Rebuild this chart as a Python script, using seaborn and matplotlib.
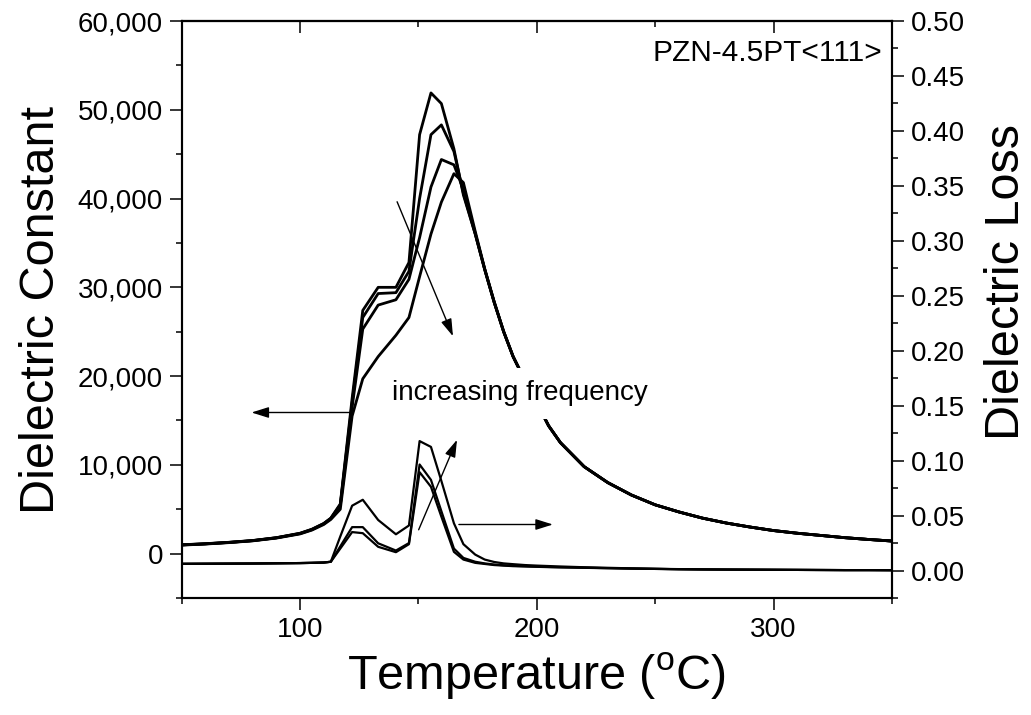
import pandas as pd
import matplotlib
matplotlib.use("Agg")
import matplotlib.pyplot as plt
import seaborn as sns
from matplotlib.ticker import MultipleLocator, FuncFormatter

# temperature points (degC)
temps = [50, 60, 70, 80, 90, 100, 105, 110, 113, 117, 122, 126.5, 133, 140.5, 146,
         150.5, 155.3, 159.7, 165, 169, 174, 178, 182, 186, 190, 195, 200, 205,
         210, 220, 230, 240, 250, 260, 270, 280, 290, 300, 310, 320, 330, 340, 350]

# dielectric constant, lowest frequency first
eps_a = [1000, 1120, 1280, 1480, 1800, 2300, 2750, 3400, 4000, 5600, 17500, 27400, 30000, 30000, 32800,
         47200, 51900, 50700, 45600, 40400, 36000, 32000, 28300, 25000, 22200, 19500, 17000, 14400,
         12500, 9800, 8000, 6600, 5500, 4700, 4000, 3450, 3000, 2600, 2300, 2050, 1800, 1600, 1420]
eps_b = [990, 1110, 1270, 1470, 1790, 2280, 2730, 3380, 3980, 5500, 17000, 26600, 29300, 29400, 31800,
         40000, 47200, 48300, 45300, 40600, 36000, 32000, 28300, 25000, 22200, 19500, 17000, 14400,
         12500, 9800, 8000, 6600, 5500, 4700, 4000, 3450, 3000, 2600, 2300, 2050, 1800, 1600, 1420]
eps_c = [980, 1100, 1260, 1460, 1780, 2260, 2700, 3350, 3950, 5400, 16500, 25300, 28000, 28600, 30900,
         35600, 41300, 44400, 43800, 41000, 36100, 32050, 28350, 25000, 22200, 19500, 17000, 14400,
         12500, 9800, 8000, 6600, 5500, 4700, 4000, 3450, 3000, 2600, 2300, 2050, 1800, 1600, 1420]
eps_d = [960, 1080, 1240, 1440, 1750, 2220, 2650, 3280, 3850, 5000, 15500, 19700, 22200, 24600, 26600,
         31200, 36000, 39600, 42800, 41800, 36300, 32100, 28400, 25050, 22200, 19500, 17000, 14400,
         12500, 9800, 8000, 6600, 5500, 4700, 4000, 3450, 3000, 2600, 2300, 2050, 1800, 1600, 1420]

# dielectric loss, highest frequency first
loss_e = [0.0061, 0.0062, 0.0063, 0.0064, 0.0066, 0.0068, 0.0070, 0.0073, 0.0080, 0.031, 0.059, 0.0644, 0.046,
          0.033, 0.041, 0.1178, 0.1125, 0.0815, 0.043, 0.024, 0.0145, 0.010, 0.0078, 0.0065, 0.0058, 0.0050,
          0.0045, 0.0041, 0.0037, 0.0030, 0.0025, 0.0020, 0.0016, 0.0013, 0.0011, 0.0009, 0.0008, 0.0007,
          0.0006, 0.0005, 0.0004, 0.0004, 0.0003]
loss_f = [0.0061, 0.0062, 0.0063, 0.0064, 0.0066, 0.0068, 0.0070, 0.0073, 0.0080, 0.022, 0.0395, 0.0395, 0.0248,
          0.0182, 0.025, 0.0965, 0.0825, 0.054, 0.020, 0.0115, 0.008, 0.0065, 0.0055, 0.0048, 0.0043, 0.0040,
          0.0036, 0.0033, 0.0030, 0.0026, 0.0022, 0.0018, 0.0015, 0.0012, 0.0010, 0.0009, 0.0008, 0.0007,
          0.0006, 0.0005, 0.0004, 0.0004, 0.0003]
loss_g = [0.0061, 0.0062, 0.0063, 0.0064, 0.0066, 0.0068, 0.0070, 0.0073, 0.0080, 0.020, 0.035, 0.034, 0.0216,
          0.0167, 0.024, 0.0895, 0.0762, 0.049, 0.017, 0.010, 0.007, 0.006, 0.0050, 0.0045, 0.0040, 0.0037,
          0.0034, 0.0031, 0.0029, 0.0025, 0.0021, 0.0018, 0.0015, 0.0012, 0.0010, 0.0009, 0.0008, 0.0007,
          0.0006, 0.0005, 0.0004, 0.0004, 0.0003]

x_ticks = [100, 200, 300]
eps_ticks = [0, 10000, 20000, 30000, 40000, 50000, 60000]
loss_ticks = [0.00, 0.05, 0.10, 0.15, 0.20, 0.25, 0.30, 0.35, 0.40, 0.45, 0.50]

eps_df = pd.concat([pd.DataFrame({'T': temps, 'eps': v, 'curve': k})
                    for k, v in zip('abcd', [eps_a, eps_b, eps_c, eps_d])])
loss_df = pd.concat([pd.DataFrame({'T': temps, 'loss': v, 'curve': k})
                     for k, v in zip('efg', [loss_e, loss_f, loss_g])])

sns.set_style("ticks")
plt.rcParams['font.family'] = ['Liberation Sans', 'DejaVu Sans']
plt.rcParams['mathtext.fontset'] = 'custom'
plt.rcParams['mathtext.rm'] = 'Liberation Sans'
for key in ['text.color', 'axes.labelcolor', 'xtick.color', 'ytick.color', 'axes.edgecolor']:
    plt.rcParams[key] = 'black'

fig = plt.figure(figsize=(10.31, 7.15), dpi=100)
ax = fig.add_axes([0.1762, 0.1636, 0.6889, 0.807])
ax2 = ax.twinx()

sns.lineplot(data=eps_df, x='T', y='eps', hue='curve', palette=['black'] * 4,
             linewidth=2.0, legend=False, estimator=None, sort=False, ax=ax)
sns.lineplot(data=loss_df, x='T', y='loss', hue='curve', palette=['black'] * 3,
             linewidth=1.6, legend=False, estimator=None, sort=False, ax=ax2)

ax.set_xlim(50, 350)
ax.set_ylim(-5000, 60000)
ax2.set_ylim(-0.025, 0.5)
ax.set_xticks(x_ticks)
ax.xaxis.set_minor_locator(MultipleLocator(50))
ax.set_yticks(eps_ticks)
ax.yaxis.set_minor_locator(MultipleLocator(5000))
ax.yaxis.set_major_formatter(FuncFormatter(lambda v, p: f"{v:,.0f}"))
ax2.set_yticks(loss_ticks)
ax2.yaxis.set_minor_locator(MultipleLocator(0.025))
ax2.yaxis.set_major_formatter(FuncFormatter(lambda v, p: f"{v:.2f}"))

for a in (ax, ax2):
    for s in a.spines.values():
        s.set_linewidth(1.5)
        s.set_visible(True)
    a.tick_params(which='major', length=8.5, width=1.1, labelsize=20, direction='out', pad=5)
    a.tick_params(which='minor', length=4.5, width=1.1, direction='out')

top = ax.secondary_xaxis('top')
top.set_xticks(x_ticks)
top.xaxis.set_minor_locator(MultipleLocator(50))
top.tick_params(which='major', length=8.5, width=1.1, direction='in', labeltop=False)
top.tick_params(which='minor', length=4.5, width=1.1, direction='in')
top.spines['top'].set_linewidth(1.5)

ax.set_xlabel("Temperature ($^{\\rm o}$C)", fontsize=35, labelpad=6)
ax.set_ylabel("Dielectric Constant", fontsize=35, labelpad=10)
ax2.set_ylabel("Dielectric Loss", fontsize=35, labelpad=14)
ax2.yaxis.label.set_y(0.548)

ax.text(0.986, 0.944, "PZN-4.5PT<111>", transform=ax.transAxes, fontsize=21.5,
        ha='right', va='center')
ax.text(139, 18070, "increasing frequency", fontsize=20, ha='left', va='center', zorder=5,
        bbox=dict(facecolor='white', edgecolor='none', pad=9))

arrow = dict(arrowstyle='-|>,head_length=0.7,head_width=0.22', lw=1.0, color='black',
             mutation_scale=15, shrinkA=0, shrinkB=0)
ax.annotate('', xy=(79.5, 15900), xytext=(121.7, 15900), arrowprops=arrow, zorder=6)
ax.annotate('', xy=(164.6, 24490), xytext=(141, 39640), arrowprops=arrow, zorder=6)
ax2.annotate('', xy=(166.3, 0.119), xytext=(150.1, 0.0371), arrowprops=arrow)
ax2.annotate('', xy=(206.8, 0.0419), xytext=(167.1, 0.0419), arrowprops=arrow)

fig.savefig("out.png", dpi=100)
